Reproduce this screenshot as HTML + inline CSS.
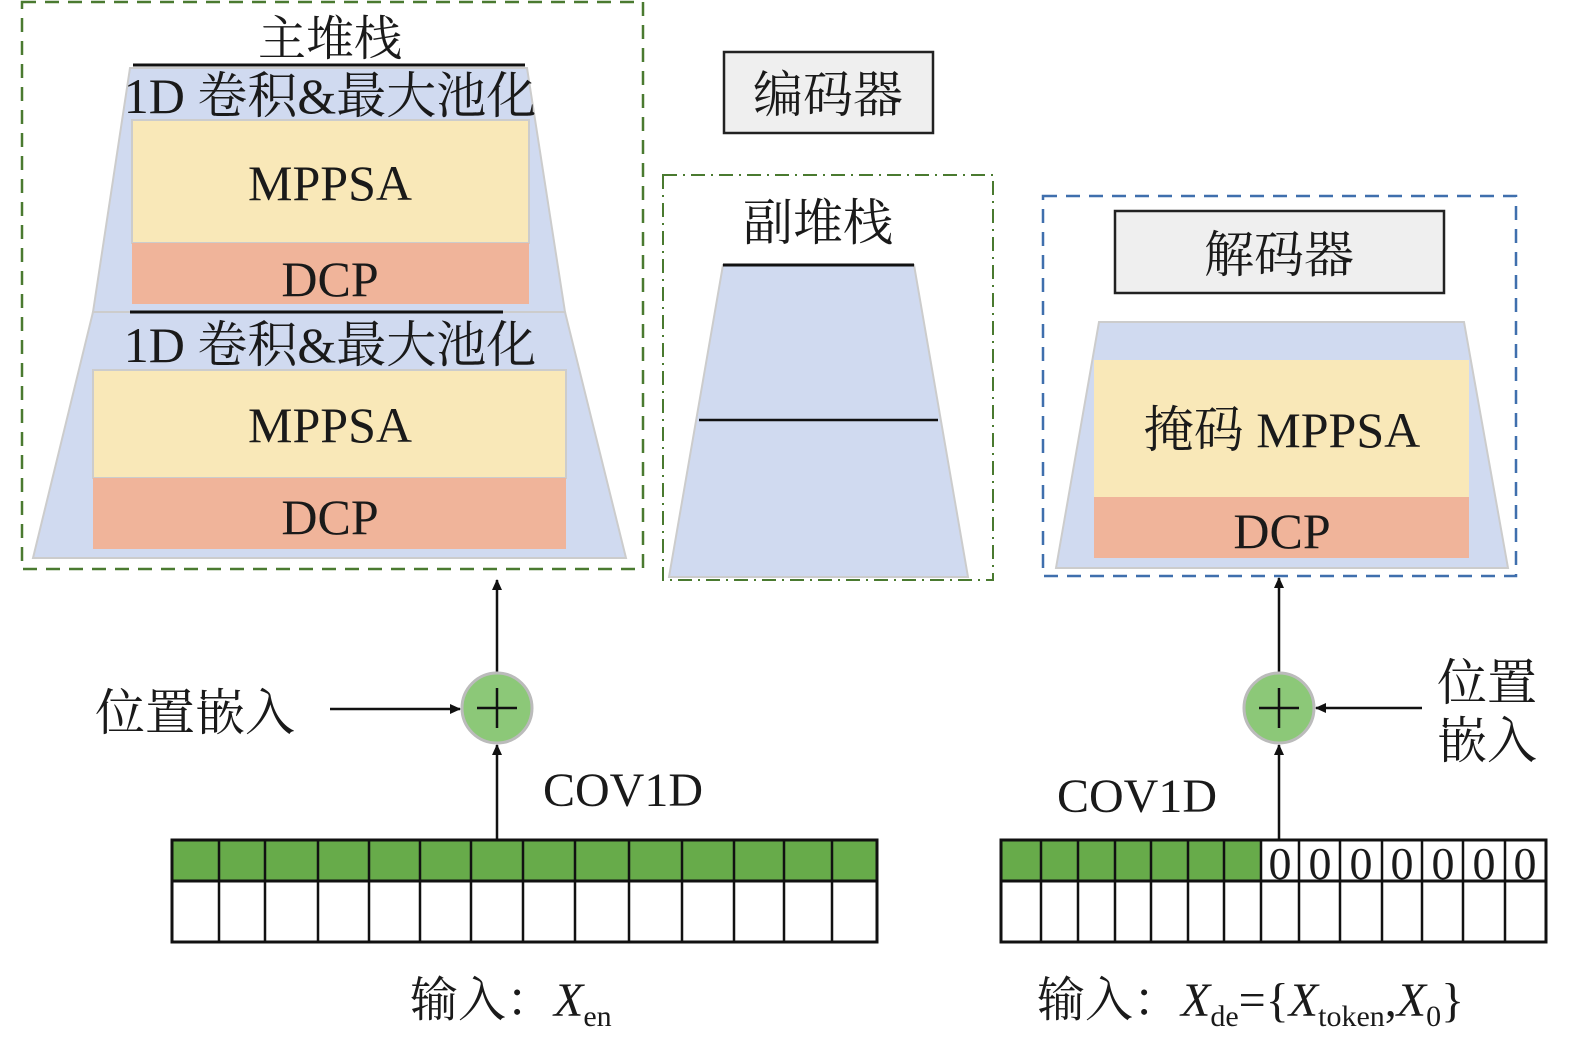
<!DOCTYPE html>
<html><head><meta charset="utf-8"><style>
body{margin:0;background:#fff}
text{font-family:"Liberation Serif","Noto Serif CJK SC",serif;fill:#1a1a1a}
</style></head><body>
<svg width="1575" height="1049" viewBox="0 0 1575 1049" xmlns="http://www.w3.org/2000/svg">
<defs><marker id="ah" markerWidth="12" markerHeight="12" refX="10" refY="5" orient="auto" markerUnits="userSpaceOnUse"><path d="M0,0 L11,5 L0,10 Z" fill="#111"/></marker></defs>
<!-- left stack -->
<rect x="22" y="2" width="621" height="567" fill="none" stroke="#4a7a30" stroke-width="2.5" stroke-dasharray="14,9"/>
<polygon points="130,68 527,68 565,312 93,312" fill="#d0daf0" stroke="#ccc" stroke-width="2"/>
<polygon points="93,312 565,312 626,558 33,558" fill="#d0daf0" stroke="#ccc" stroke-width="2"/>
<line x1="133" y1="65" x2="525" y2="65" stroke="#111" stroke-width="3"/>
<line x1="130" y1="312" x2="503" y2="312" stroke="#111" stroke-width="3"/>
<rect x="132" y="120" width="397" height="123" fill="#f9e8b8" stroke="#ccc" stroke-width="2"/>
<rect x="132" y="243" width="397" height="61" fill="#f0b49a"/>
<rect x="93" y="370" width="473" height="108" fill="#f9e8b8" stroke="#ccc" stroke-width="2"/>
<rect x="93" y="478" width="473" height="71" fill="#f0b49a"/>
<text x="330" y="55" font-size="48" text-anchor="middle">主堆栈</text>
<text x="330" y="113" font-size="50" text-anchor="middle">1D 卷积&amp;最大池化</text>
<text x="330" y="200" font-size="50" text-anchor="middle">MPPSA</text>
<text x="330" y="296" font-size="50" text-anchor="middle">DCP</text>
<text x="330" y="362" font-size="50" text-anchor="middle">1D 卷积&amp;最大池化</text>
<text x="330" y="442" font-size="50" text-anchor="middle">MPPSA</text>
<text x="330" y="534" font-size="50" text-anchor="middle">DCP</text>
<!-- middle -->
<rect x="724" y="52" width="209" height="81" fill="#efefef" stroke="#222" stroke-width="2.5"/>
<text x="828" y="112" font-size="50" text-anchor="middle">编码器</text>
<rect x="663" y="175" width="330" height="405" fill="none" stroke="#4a7a30" stroke-width="2" stroke-dasharray="14,6,2,6"/>
<polygon points="723,265 914,265 968,577 669,577" fill="#d0daf0" stroke="#ccc" stroke-width="2"/>
<line x1="723" y1="265" x2="914" y2="265" stroke="#111" stroke-width="3"/>
<line x1="699" y1="420" x2="938" y2="420" stroke="#111" stroke-width="2.5"/>
<text x="818" y="240" font-size="50" text-anchor="middle">副堆栈</text>
<!-- right -->
<rect x="1043" y="196" width="473" height="380" fill="none" stroke="#3f6fad" stroke-width="2.5" stroke-dasharray="14,9"/>
<rect x="1115" y="211" width="329" height="82" fill="#efefef" stroke="#222" stroke-width="2.5"/>
<text x="1279" y="272" font-size="50" text-anchor="middle">解码器</text>
<polygon points="1099,322 1464,322 1508,568 1056,568" fill="#d0daf0" stroke="#ccc" stroke-width="2"/>
<rect x="1094" y="360" width="375" height="137" fill="#f9e8b8"/>
<rect x="1094" y="497" width="375" height="61" fill="#f0b49a"/>
<text x="1282" y="447" font-size="50" text-anchor="middle">掩码 MPPSA</text>
<text x="1282" y="548" font-size="50" text-anchor="middle">DCP</text>
<!-- left flow -->
<line x1="497" y1="840" x2="497" y2="745" stroke="#111" stroke-width="2.5" marker-end="url(#ah)"/>
<line x1="497" y1="672" x2="497" y2="580" stroke="#111" stroke-width="2.5" marker-end="url(#ah)"/>
<circle cx="497" cy="708" r="35" fill="#8cc878" stroke="#bbb" stroke-width="3"/>
<path d="M477,708 H517 M497,688 V728" stroke="#111" stroke-width="2.5"/>
<line x1="330" y1="709" x2="460" y2="709" stroke="#111" stroke-width="2.5" marker-end="url(#ah)"/>
<text x="95" y="730" font-size="50">位置嵌入</text>
<text x="543" y="806" font-size="48">COV1D</text>
<!-- right flow -->
<line x1="1279" y1="840" x2="1279" y2="745" stroke="#111" stroke-width="2.5" marker-end="url(#ah)"/>
<line x1="1279" y1="672" x2="1279" y2="578" stroke="#111" stroke-width="2.5" marker-end="url(#ah)"/>
<circle cx="1279" cy="708" r="35" fill="#8cc878" stroke="#bbb" stroke-width="3"/>
<path d="M1259,708 H1299 M1279,688 V728" stroke="#111" stroke-width="2.5"/>
<line x1="1422" y1="708" x2="1316" y2="708" stroke="#111" stroke-width="2.5" marker-end="url(#ah)"/>
<text x="1437" y="700" font-size="50">位置</text>
<text x="1437" y="758" font-size="50">嵌入</text>
<text x="1057" y="812" font-size="48">COV1D</text>
<!-- left array -->
<rect x="172" y="840" width="705" height="41" fill="#67ab4a"/>
<rect x="172" y="840" width="705" height="102" fill="none" stroke="#111" stroke-width="3"/>
<line x1="172" y1="881" x2="877" y2="881" stroke="#111" stroke-width="3"/>
<g stroke="#111" stroke-width="2.5">
<line x1="219" y1="840" x2="219" y2="942"/><line x1="265" y1="840" x2="265" y2="942"/><line x1="318" y1="840" x2="318" y2="942"/><line x1="369" y1="840" x2="369" y2="942"/><line x1="420" y1="840" x2="420" y2="942"/><line x1="471" y1="840" x2="471" y2="942"/><line x1="523" y1="840" x2="523" y2="942"/><line x1="575" y1="840" x2="575" y2="942"/><line x1="629" y1="840" x2="629" y2="942"/><line x1="682" y1="840" x2="682" y2="942"/><line x1="734" y1="840" x2="734" y2="942"/><line x1="784" y1="840" x2="784" y2="942"/><line x1="832" y1="840" x2="832" y2="942"/>
</g>
<!-- right array -->
<rect x="1001" y="840" width="260" height="41" fill="#67ab4a"/>
<rect x="1001" y="840" width="545" height="102" fill="none" stroke="#111" stroke-width="3"/>
<line x1="1001" y1="881" x2="1546" y2="881" stroke="#111" stroke-width="3"/>
<g stroke="#111" stroke-width="2.5">
<line x1="1041" y1="840" x2="1041" y2="942"/><line x1="1078" y1="840" x2="1078" y2="942"/><line x1="1115" y1="840" x2="1115" y2="942"/><line x1="1151" y1="840" x2="1151" y2="942"/><line x1="1188" y1="840" x2="1188" y2="942"/><line x1="1224" y1="840" x2="1224" y2="942"/><line x1="1261" y1="840" x2="1261" y2="942"/><line x1="1299" y1="840" x2="1299" y2="942"/><line x1="1340" y1="840" x2="1340" y2="942"/><line x1="1382" y1="840" x2="1382" y2="942"/><line x1="1422" y1="840" x2="1422" y2="942"/><line x1="1463" y1="840" x2="1463" y2="942"/><line x1="1505" y1="840" x2="1505" y2="942"/>
</g>
<g font-size="46" text-anchor="middle">
<text x="1280" y="879">0</text><text x="1320" y="879">0</text><text x="1361" y="879">0</text><text x="1402" y="879">0</text><text x="1443" y="879">0</text><text x="1484" y="879">0</text><text x="1525" y="879">0</text>
</g>
<!-- labels -->
<text x="410" y="1016" font-size="48">输入：<tspan font-style="italic">X</tspan><tspan font-size="30" dy="10">en</tspan></text>
<text x="1037" y="1016" font-size="48">输入：<tspan font-style="italic">X</tspan><tspan font-size="30" dy="10">de</tspan><tspan dy="-10">={</tspan><tspan font-style="italic">X</tspan><tspan font-size="30" dy="10">token</tspan><tspan dy="-10">,</tspan><tspan font-style="italic">X</tspan><tspan font-size="30" dy="10">0</tspan><tspan dy="-10">}</tspan></text>
</svg>
</body></html>
